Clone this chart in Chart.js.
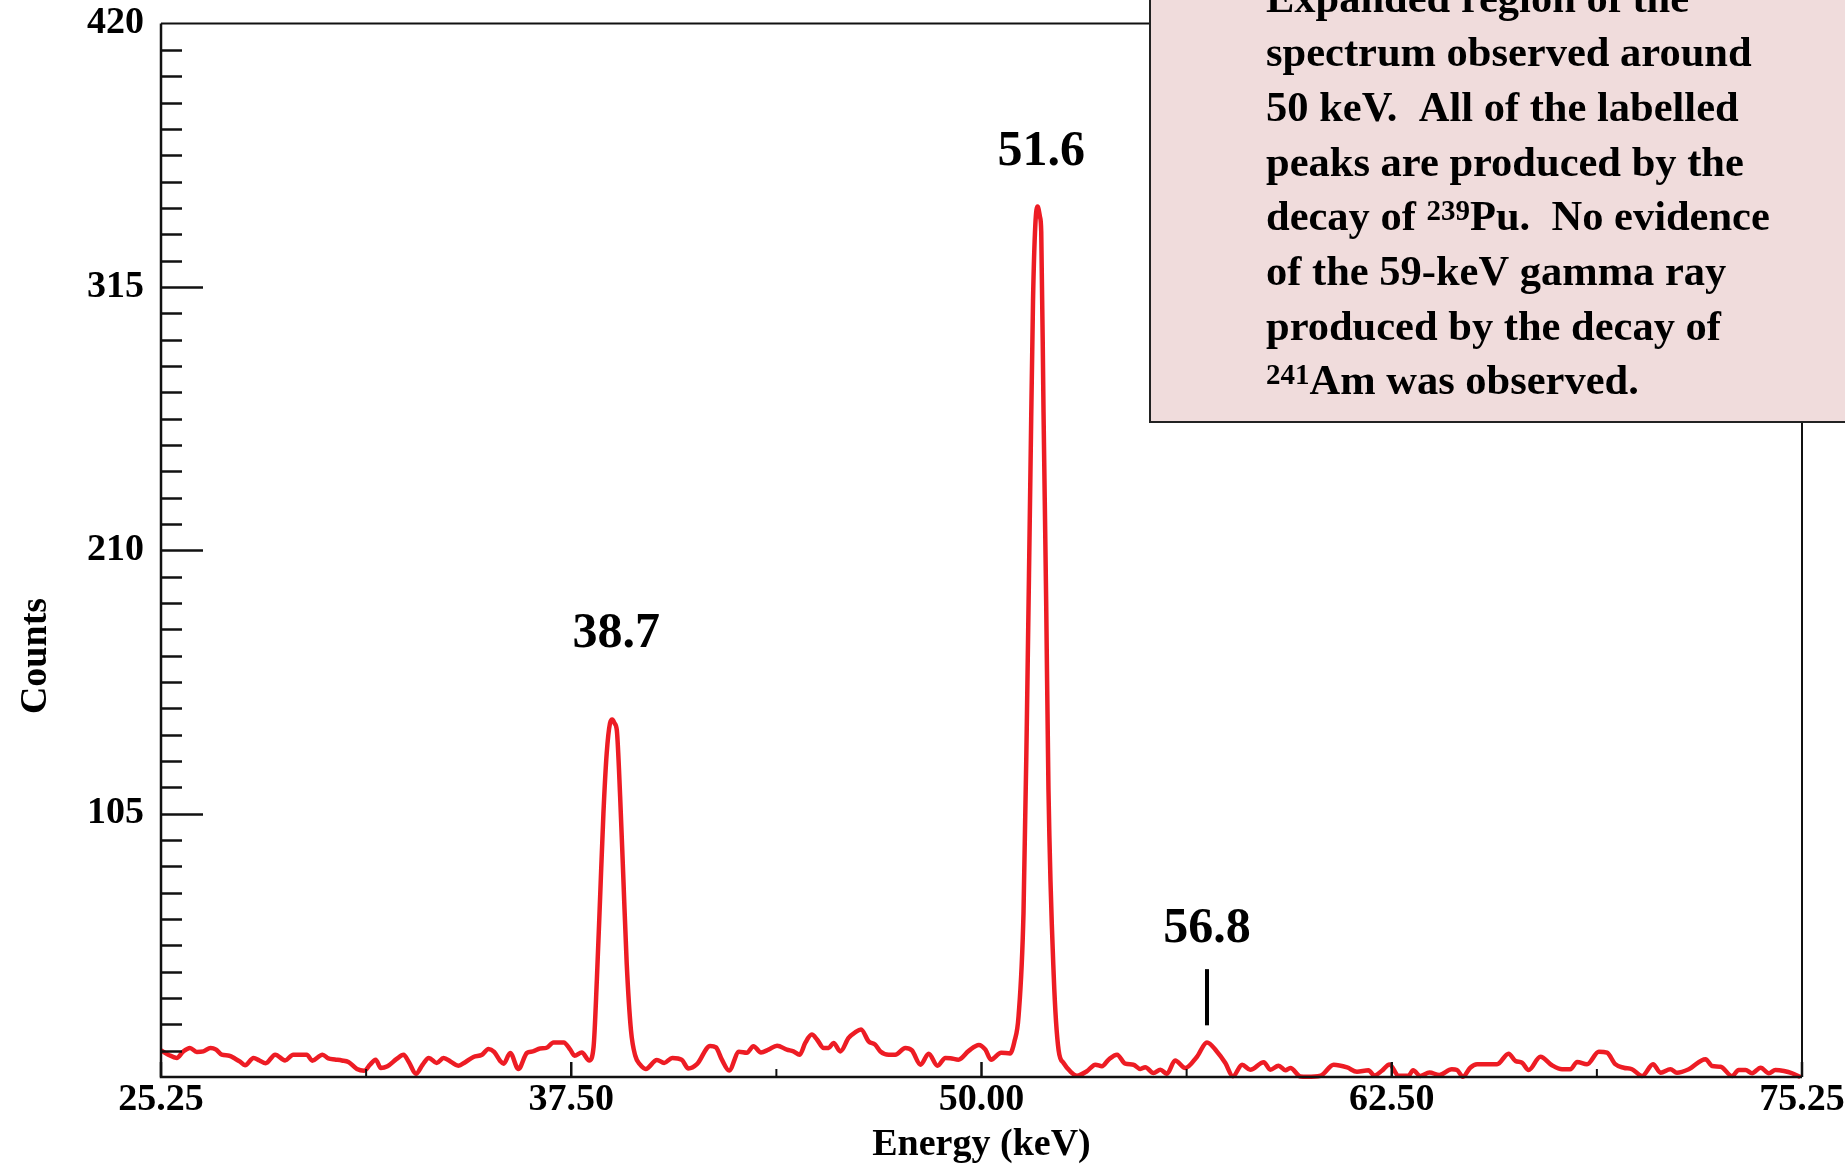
<!DOCTYPE html>
<html><head><meta charset="utf-8">
<script src="https://cdn.jsdelivr.net/npm/chart.js@4.4.1/dist/chart.umd.min.js"></script>
<style>html,body{margin:0;padding:0;background:#fff;overflow:hidden}</style>
</head><body>
<canvas id="c" width="1845" height="1169"></canvas>
<script>
// ---- data ----
const energyKeV = [
 25.25,25.47,25.73,25.93,26.13,26.34,26.54,26.76,26.93,27.10,27.33,27.51,27.66,27.81,28.07,28.25,28.44,28.73,29.03,29.28,
 29.69,29.86,30.17,30.35,30.55,30.76,30.96,31.22,31.44,31.62,31.79,31.95,32.15,32.43,32.64,32.80,33.02,33.22,33.41,33.65,
 33.86,34.08,34.31,34.52,34.77,35.03,35.23,35.40,35.59,35.69,35.89,36.14,36.40,36.58,36.80,36.99,37.21,37.52,37.72,37.85,
 38.07,38.30,38.43,38.53,38.63,38.73,38.83,38.93,39.00,39.07,39.14,39.24,39.34,39.44,39.57,39.70,39.85,40.02,40.36,40.58,
 40.83,41.12,41.32,41.58,41.98,42.16,42.34,42.56,42.86,43.10,43.30,43.53,43.76,44.02,44.32,44.52,44.71,44.88,45.08,45.24,
 45.44,45.59,45.74,45.95,46.20,46.40,46.58,46.81,47.01,47.17,47.42,47.62,47.93,48.13,48.39,48.64,48.91,49.15,49.30,49.55,
 49.86,50.17,50.37,50.54,50.85,51.12,51.25,51.38,51.53,51.63,51.74,51.82,51.89,51.96,52.03,52.07,52.14,52.22,52.29,52.45,
 52.60,52.75,52.95,53.16,53.46,53.72,53.92,54.12,54.38,54.63,54.88,55.09,55.24,55.49,55.70,55.90,56.15,56.46,56.81,57.12,
 57.42,57.68,57.91,58.19,58.44,58.85,59.05,59.30,59.51,59.66,59.97,60.17,60.58,60.98,61.39,61.69,62.04,62.22,62.45,62.68,
 62.96,63.26,63.40,63.62,63.90,64.20,64.58,64.74,64.92,65.14,65.35,65.96,66.31,66.52,66.72,66.92,67.28,67.63,67.94,68.19,
 68.40,68.70,69.06,69.31,69.56,69.82,70.07,70.38,70.71,70.94,71.24,71.44,71.80,72.31,72.51,72.77,73.12,73.32,73.53,73.73,
 73.99,74.24,74.44,74.70,74.95,75.20
];
const counts = [
 10.6,8.9,7.6,10.2,11.6,10.0,10.2,11.6,10.9,8.9,8.5,7.3,6.1,4.7,7.6,6.6,5.5,8.9,6.6,8.9,
 8.9,6.5,8.9,7.4,7.0,6.6,6.0,3.2,2.5,4.9,6.9,3.6,4.3,7.2,8.9,6.0,1.3,4.9,7.6,5.6,
 7.6,6.1,4.5,5.9,8.0,8.9,11.2,10.0,6.3,5.3,9.6,3.2,9.6,10.2,11.4,11.6,13.8,13.8,10.9,8.5,
 9.8,6.6,12.0,38.6,71.8,105,129,141,142.5,141,138,111.7,78.4,45.2,18.6,8.5,4.9,3.2,6.8,5.6,
 7.6,6.8,3.4,5.1,12.4,11.8,6.9,2.6,10.1,9.7,12.3,9.8,10.9,12.5,10.9,10.2,8.9,13.6,16.9,14.9,
 11.6,11.6,13.6,10.2,15.6,17.8,18.9,14.2,12.9,10.2,8.9,8.9,11.6,10.6,4.9,9.3,4.5,7.6,7.5,6.9,
 10.4,12.8,10.9,6.9,9.7,9.4,14.0,24.4,65.5,140,240,309.7,339.7,347,343,337,265,190,115,40.6,
 10.6,5.6,2.3,0.5,2.3,4.9,4.3,6.9,8.9,5.3,4.9,3.2,3.9,1.6,2.9,1.3,6.6,3.6,8.0,13.8,
 10.2,5.6,0.3,4.9,2.9,5.9,2.9,4.5,2.7,3.6,0.2,0.1,0.5,4.9,3.8,2.1,2.7,0.6,2.5,5.0,
 0.5,0.5,2.7,0.4,1.8,0.8,3.1,2.8,0.1,3.7,5.1,5.1,9.3,6.4,5.7,2.8,8.1,4.7,3.1,3.1,
 6.0,5.1,10.1,9.7,5.1,3.7,3.1,0.4,5.1,1.7,3.1,1.7,3.1,7.1,4.4,4.1,0.4,2.8,2.8,1.5,
 3.7,1.5,2.8,2.4,1.5,0.0
];
const xTickValues = [25.25, 37.75, 50.25, 62.75, 75.25];
const xTickLabels = ["25.25", "37.50", "50.00", "62.50", "75.25"];
const xMinorTicks = [31.5, 44.0, 56.5, 69.0];
const yTickValues = [105, 210, 315, 420];
const yTickLabels = ["105", "210", "315", "420"];
const yMinorStep = 10.5;
const peakLabels = ["38.7", "51.6", "56.8"];
const peakLabelX = [39.12, 52.07, 57.12];
const peakLabelY = [171.5, 363.6, 53.8];
const markerX = 57.12;
const markerY = [20.6, 43.0];
const noteLines = [
  "Expanded region of the",
  "spectrum observed around",
  "50 keV.  All of the labelled",
  "peaks are produced by the",
  "decay of ^{239}Pu.  No evidence",
  "of the 59-keV gamma ray",
  "produced by the decay of",
  "^{241}Am was observed."
];

const F = "'Liberation Serif', 'Times New Roman', serif";
const RED = 'rgb(237,28,36)';

const overlay = {
  id: 'overlay',
  afterDraw(chart) {
    const ctx = chart.ctx;
    const a = chart.chartArea;
    const xs = chart.scales.x, ys = chart.scales.y;
    ctx.save();
    ctx.strokeStyle = '#111';
    ctx.lineCap = 'butt';
    // frame
    ctx.lineWidth = 2.5;
    ctx.beginPath();
    ctx.moveTo(a.left, a.top); ctx.lineTo(a.left, a.bottom); ctx.lineTo(a.right, a.bottom);
    ctx.stroke();
    ctx.lineWidth = 2;
    ctx.beginPath();
    ctx.moveTo(a.left, a.top); ctx.lineTo(a.right, a.top); ctx.lineTo(a.right, a.bottom);
    ctx.stroke();
    // y ticks (inward)
    ctx.lineWidth = 2.5;
    for (let v = yMinorStep; v < ys.max - 1e-6; v += yMinorStep) {
      const p = Math.round(ys.getPixelForValue(v)) + 0.5;
      const major = yTickValues.some(t => Math.abs(t - v) < 1e-6);
      ctx.beginPath(); ctx.moveTo(a.left, p); ctx.lineTo(a.left + (major ? 42 : 21), p); ctx.stroke();
    }
    // x ticks (inward)
    xTickValues.forEach(v => {
      const p = xs.getPixelForValue(v);
      ctx.beginPath(); ctx.moveTo(p, a.bottom); ctx.lineTo(p, a.bottom - 15); ctx.stroke();
    });
    ctx.lineWidth = 2;
    xMinorTicks.forEach(v => {
      const p = xs.getPixelForValue(v);
      ctx.beginPath(); ctx.moveTo(p, a.bottom); ctx.lineTo(p, a.bottom - 8); ctx.stroke();
    });
    // y title
    ctx.fillStyle = '#000';
    ctx.font = "bold 38px " + F;
    ctx.save();
    ctx.translate(36, 656);
    ctx.rotate(-Math.PI / 2);
    ctx.textAlign = 'center'; ctx.textBaseline = 'middle';
    ctx.fillText('Counts', 0, 0);
    ctx.restore();
    // peak labels
    ctx.font = "bold 50px " + F;
    ctx.textAlign = 'center'; ctx.textBaseline = 'alphabetic';
    peakLabels.forEach((t, i) => {
      ctx.fillText(t, xs.getPixelForValue(peakLabelX[i]), ys.getPixelForValue(peakLabelY[i]));
    });
    // marker for 56.8
    ctx.lineWidth = 4;
    ctx.strokeStyle = '#000';
    const mx = xs.getPixelForValue(markerX);
    ctx.beginPath(); ctx.moveTo(mx, ys.getPixelForValue(markerY[0])); ctx.lineTo(mx, ys.getPixelForValue(markerY[1])); ctx.stroke();
    // note box
    ctx.fillStyle = '#f0dcdc';
    ctx.fillRect(1150, -10, 720, 432);
    ctx.lineWidth = 2;
    ctx.strokeStyle = '#222';
    ctx.strokeRect(1150, -10, 720, 432);
    ctx.fillStyle = '#000';
    ctx.textAlign = 'left'; ctx.textBaseline = 'alphabetic';
    noteLines.forEach((line, i) => {
      const base = 11.5 + i * 54.7;
      let x = 1266;
      const parts = line.split(/(\^\{[^}]*\})/).filter(s => s.length);
      parts.forEach(seg => {
        if (seg.startsWith('^{')) {
          const t = seg.slice(2, -1);
          ctx.font = "bold 29px " + F;
          ctx.fillText(t, x, base - 10);
          x += ctx.measureText(t).width;
        } else {
          ctx.font = "bold 42.5px " + F;
          ctx.fillText(seg, x, base);
          x += ctx.measureText(seg).width;
        }
      });
    });
    ctx.restore();
  }
};

new Chart(document.getElementById('c'), {
  type: 'line',
  data: {
    datasets: [{
      data: energyKeV.map((e, i) => ({x: e, y: counts[i]})),
      borderColor: RED,
      borderWidth: 4.5,
      pointRadius: 0,
      fill: false,
      cubicInterpolationMode: 'monotone',
      clip: 6
    }]
  },
  options: {
    responsive: false,
    animation: false,
    devicePixelRatio: 1,
    layout: {padding: {top: 23.5, right: 43, left: 0, bottom: 0}},
    plugins: {legend: {display: false}, tooltip: {enabled: false}},
    scales: {
      x: {
        type: 'linear', min: 25.25, max: 75.25,
        afterBuildTicks: s => { s.ticks = xTickValues.map(v => ({value: v})); },
        afterFit: s => { s.height = 92; },
        grid: {display: false, drawTicks: false},
        border: {display: false},
        ticks: {autoSkip: false, maxRotation: 0, minRotation: 0, padding: 0, color: '#000',
          font: {family: F, size: 38, weight: 'bold', lineHeight: 1.2},
          callback: (v, i) => xTickLabels[i]},
        title: {display: true, text: 'Energy (keV)', color: '#000',
          font: {family: F, size: 38, weight: 'bold', lineHeight: 1.2}, padding: {top: 0, bottom: 1}}
      },
      y: {
        type: 'linear', min: 0, max: 420,
        afterBuildTicks: s => { s.ticks = yTickValues.map(v => ({value: v})); },
        afterFit: s => { s.width = 161; },
        grid: {display: false, drawTicks: false},
        border: {display: false},
        ticks: {autoSkip: false, padding: 17, color: '#000',
          font: {family: F, size: 38, weight: 'bold', lineHeight: 0.1},
          callback: (v, i) => yTickLabels[i]}
      }
    }
  },
  plugins: [overlay]
});
</script>
</body></html>
